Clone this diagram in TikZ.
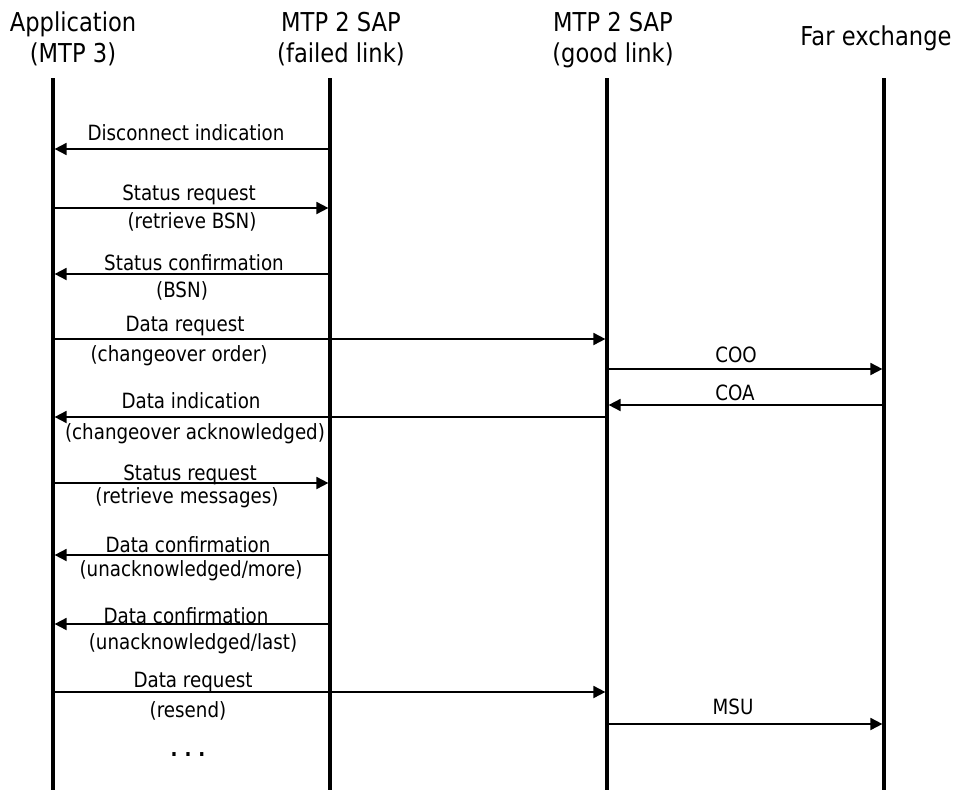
\documentclass[tikz,border=0pt]{standalone}
\usepackage{fontspec}
\setmainfont{DejaVu Sans}[FakeStretch=0.87]
\usetikzlibrary{arrows.meta}
\begin{document}
\begin{tikzpicture}[x=1pt,y=-1pt,
  lifeline/.style={line width=3.2pt},
  msg/.style={line width=1.8pt,-{Triangle[length=12pt,width=12pt]}},
  head/.style={anchor=base,inner sep=0pt,font=\fontsize{26}{30}\selectfont},
  lbl/.style={anchor=base,inner sep=0pt,font=\fontsize{21}{25}\selectfont}]
\useasboundingbox (0,0) rectangle (958,792);

% lifeline ends
\coordinate (A)  at (53,78);  \coordinate (Ab) at (53,790);
\coordinate (F)  at (330,78); \coordinate (Fb) at (330,790);
\coordinate (G)  at (607,78); \coordinate (Gb) at (607,790);
\coordinate (X)  at (884,78); \coordinate (Xb) at (884,790);

% headers
\node[head] (hA1) at (73,32) {Application};
\node[head] (hA2) at (73,63) {(MTP 3)};
\node[head] (hF1) at (341,32) {MTP 2 SAP};
\node[head] (hF2) at (341,63) {(failed link)};
\node[head] (hG1) at (613,32) {MTP 2 SAP};
\node[head] (hG2) at (613,63) {(good link)};
\node[head] (hX)  at (876,46) {Far exchange};

% lifelines
\draw[lifeline] (A) -- (Ab);
\draw[lifeline] (F) -- (Fb);
\draw[lifeline] (G) -- (Gb);
\draw[lifeline] (X) -- (Xb);

% messages
\draw[msg] (F |- 0,149) -- ([xshift=1.6pt]A |- 0,149);
\node[lbl] (t1) at (186,140) {Disconnect indication};

\draw[msg] ([xshift=1.6pt]A |- 0,208) -- ([xshift=-1.6pt]F |- 0,208);
\node[lbl] (t2) at (189,200) {Status request};
\node[lbl] (t2b) at (192,228) {(retrieve BSN)};

\draw[msg] (F |- 0,274) -- ([xshift=1.6pt]A |- 0,274);
\node[lbl] (t3) at (194,270) {Status confirmation};
\node[lbl] (t3b) at (182,297) {(BSN)};

\draw[msg] ([xshift=1.6pt]A |- 0,339) -- ([xshift=-1.6pt]G |- 0,339);
\node[lbl] (t4) at (185,331) {Data request};
\node[lbl] (t4b) at (179,361) {(changeover order)};

\draw[msg] ([xshift=1.6pt]G |- 0,369) -- ([xshift=-1.6pt]X |- 0,369);
\node[lbl] (t5) at (736,362) {COO};

\draw[msg] (X |- 0,405) -- ([xshift=1.6pt]G |- 0,405);
\node[lbl] (t6) at (735,400) {COA};

\draw[msg] (G |- 0,417) -- ([xshift=1.6pt]A |- 0,417);
\node[lbl] (t7) at (191,408) {Data indication};
\node[lbl] (t7b) at (195,439) {(changeover acknowledged)};

\draw[msg] ([xshift=1.6pt]A |- 0,483) -- ([xshift=-1.6pt]F |- 0,483);
\node[lbl] (t8) at (190,480) {Status request};
\node[lbl] (t8b) at (187,503) {(retrieve messages)};

\draw[msg] (F |- 0,555) -- ([xshift=1.6pt]A |- 0,555);
\node[lbl] (t9) at (188,552) {Data confirmation};
\node[lbl] (t9b) at (191,576) {(unacknowledged/more)};

\draw[msg] (F |- 0,624) -- ([xshift=1.6pt]A |- 0,624);
\node[lbl] (t10) at (186,623) {Data confirmation};
\node[lbl] (t10b) at (193,649) {(unacknowledged/last)};

\draw[msg] ([xshift=1.6pt]A |- 0,692) -- ([xshift=-1.6pt]G |- 0,692);
\node[lbl] (t11) at (193,687) {Data request};
\node[lbl] (t11b) at (188,717) {(resend)};

\draw[msg] ([xshift=1.6pt]G |- 0,724) -- ([xshift=-1.6pt]X |- 0,724);
\node[lbl] (t12) at (733,714) {MSU};

\node[lbl] (more) at (188,756) {\bfseries .\,\,.\,\,.};
\end{tikzpicture}
\end{document}
